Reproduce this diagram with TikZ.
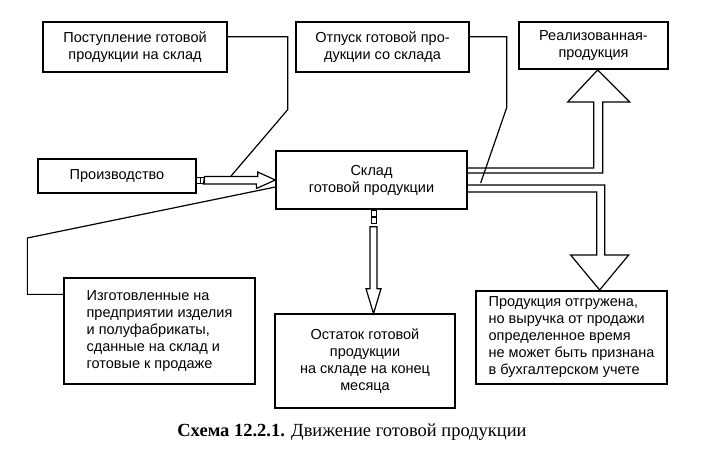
\documentclass[tikz,border=0pt]{standalone}
\usepackage{fontspec}
\setmainfont{Liberation Sans}
\newfontfamily\capfont{Liberation Serif}
\usetikzlibrary{positioning,calc}
\tikzset{
  blk/.style={rectangle, draw=black, line width=1.3pt, inner sep=2pt, text centered, align=center, font=\fontsize{14.5}{17}\selectfont},
  blkl/.style={blk, align=left},
  lnk/.style={line width=1.2pt},
  hol/.style={line width=1.2pt, line join=miter},
  sq/.style={line width=0.8pt}
}
\begin{document}
\begin{tikzpicture}[x=1pt,y=-1pt]
	\useasboundingbox (0,0) rectangle (701,457);
	\node[blk, minimum width=184pt, minimum height=50pt] (postup) at (135,47) {Поступление готовой\\продукции на склад};
	\node[blk, minimum width=173pt, minimum height=50pt] (otpusk) at (382.5,47) {Отпуск готовой про-\\дукции со склада};
	\node[blk, minimum width=149pt, minimum height=47pt] (real) at (593.5,45.5) {Реализованная-\\продукция};
	\node[blk, minimum width=158pt, minimum height=34pt] (proizv) at (117,176) {Производство};
	\node[blk, minimum width=191pt, minimum height=58pt] (sklad) at (371.5,180) {Склад\\готовой продукции};
	\node[blkl, minimum width=191pt, minimum height=106pt] (izgot) at (159.5,331) {Изготовленные на\\предприятии изделия\\и полуфабрикаты,\\сданные на склад и\\готовые к продаже};
	\node[blk, minimum width=180pt, minimum height=94pt] (ostatok) at (365,361) {Остаток готовой\\продукции\\на складе на конец\\месяца};
	\node[blkl, minimum width=191pt, minimum height=93pt] (otgruz) at (571.5,337.5) {Продукция отгружена,\\но выручка от продажи\\определенное время\\не может быть признана\\в бухгалтерском учете};
	\node[font=\capfont\fontsize{18.5}{20}\selectfont] (cap) at (352,432) {\textbf{Схема 12.2.1.} Движение готовой продукции};
	%
	\coordinate (pa) at (proizv.east |- sklad.west);
	\coordinate (pb) at ($(sklad.south)+(2,0)$);
	% hollow arrows
	\draw[sq] ($(pa)+(0,-3)$) rectangle ++(4,6);
	\draw[sq] ($(pa)+(4,-3)$) rectangle ++(4,6);
	\draw[hol] ($(pa)+(8,-3.5)$) -- ++(53,0) -- ++(0,-4.5) -- (sklad.west) -- ++(-19,8.5) -- ++(0,-4.5) -- ++(-53,0) -- cycle;
	\draw[sq] ($(pb)+(-2.5,1)$) rectangle ++(5,6);
	\draw[sq] ($(pb)+(-2.5,8)$) rectangle ++(5,6);
	\draw[hol] ($(pb)+(-3.5,17)$) -- ++(0,62) -- ++(-4,0) -- ($(pb)+(0,104)$) -- ++(7.5,-25) -- ++(-4,0) -- ++(0,-62) -- cycle;
	\draw[hol] ($(sklad.east)+(0,-12)$) -- ++(126,0) -- ++(0,-66) -- ++(-26,0) -- ++(30,-32) -- ++(32,32) -- ++(-27,0) -- ++(0,71) -- ++(-135,0);
	\draw[hol] ($(sklad.east)+(0,5)$) -- ++(137,0) -- ++(0,70) -- ++(24,0) -- ++(-29,35) -- ++(-29,-35) -- ++(26,0) -- ++(0,-63) -- ++(-129,0);
	% plain links
	\draw[lnk] ($(postup.north east)!0.3!(postup.south east)$) -- ++(60,0) -- ++(0,73) -- ($(pa)+(34,-3.5)$);
	\draw[lnk] ($(otpusk.north east)!0.3!(otpusk.south east)$) -- ++(37,0) -- ++(0,71) -- ($(sklad.east)+(13,3)$);
	\draw[lnk] ($(sklad.west)+(0,7)$) -- ++(-248,51) |- ($(izgot.north west)+(0,17)$);
\end{tikzpicture}
\end{document}
